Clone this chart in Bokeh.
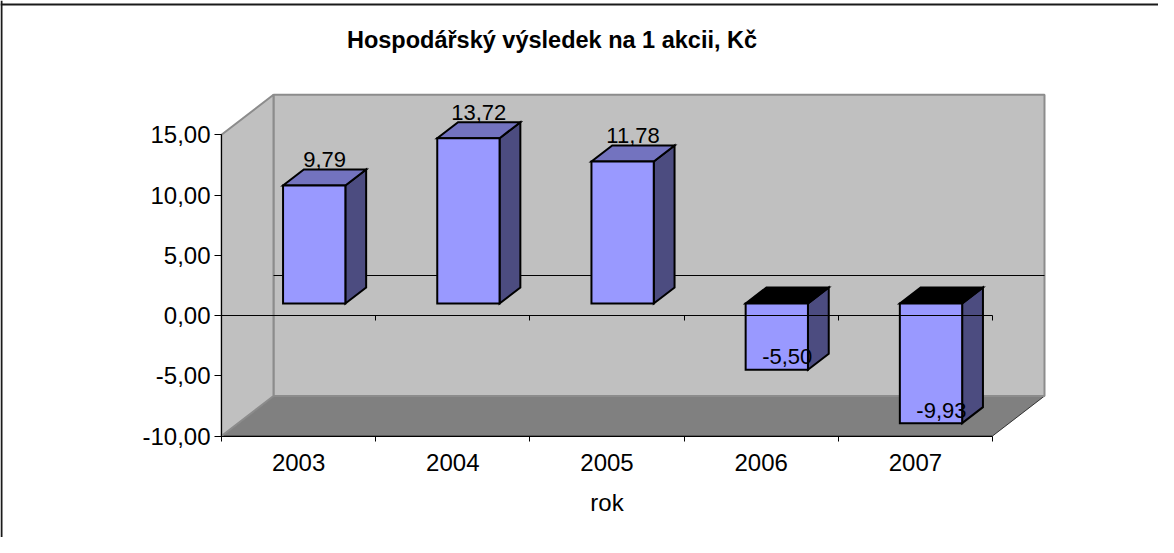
from bokeh.plotting import figure
from bokeh.models import Range1d, LinearAxis, FixedTicker, Span, Label, ColumnDataSource
from bokeh.embed import file_html
from bokeh.resources import INLINE
from bokeh.core.properties import value

# ---------------- data ----------------
years = ["2003", "2004", "2005", "2006", "2007"]
eps = [9.79, 13.72, 11.78, -5.50, -9.93]
y_ticks = [-10, -5, 0, 5, 10, 15]
title_text = "Hospodářský výsledek na 1 akcii, Kč"
x_title = "rok"

# ---------------- layout / 3D geometry ----------------
W, H = 1158, 537
PX_X = 154.2          # px per category
PX_Y = 12.05          # px per unit of value
AX_X = 221            # px from figure left to value axis
ZERO_Y = 315          # px from figure top to value 0 on the front plane
DX = 52 / PX_X        # depth vector (x, in category units)
DY = 40 / PX_Y        # depth vector (y, in value units)
BAR_W = 0.404
D0, D1 = 0.3, 0.7     # bar depth span (fraction of the depth)
Y_MIN, Y_MAX = y_ticks[0], y_ticks[-1]
n = len(years)
X_LO, X_HI = -0.5, n - 0.5

x_start = -AX_X / PX_X - 0.5
x_end = (W - AX_X) / PX_X - 0.5
y_end = ZERO_Y / PX_Y
y_start = -(H - ZERO_Y) / PX_Y

FONT = "Liberation Sans"

p = figure(width=W, height=H, x_range=Range1d(x_start, x_end), y_range=Range1d(y_start, y_end),
           x_axis_type=None, y_axis_type=None, toolbar_location=None, output_backend="svg",
           min_border=0, outline_line_color=None,
           background_fill_color="white", border_fill_color="white")

# floor
p.patch([X_LO, X_HI, X_HI + DX, X_LO + DX], [Y_MIN, Y_MIN, Y_MIN + DY, Y_MIN + DY],
        fill_color="#808080", line_color="#333333", line_width=1)
# back wall
p.patch([X_LO + DX, X_HI + DX, X_HI + DX, X_LO + DX],
        [Y_MIN + DY, Y_MIN + DY, Y_MAX + DY, Y_MAX + DY],
        fill_color="#c0c0c0", line_color="#8c8c8c", line_width=2)
# side wall
p.patch([X_LO, X_LO + DX, X_LO + DX, X_LO], [Y_MIN, Y_MIN + DY, Y_MAX + DY, Y_MAX],
        fill_color="#c0c0c0", line_color="#8c8c8c", line_width=2)
# zero line on the back wall
p.line([X_LO + DX, X_HI + DX], [DY, DY], line_color="black", line_width=1)

# bars
front_x, front_y, side_x, side_y, top_x, top_y, top_c = [], [], [], [], [], [], []
for i, v in enumerate(eps):
    xl, xr = i - BAR_W / 2, i + BAR_W / 2
    lo, hi = min(0, v), max(0, v)
    front_x.append([xl + D0 * DX, xr + D0 * DX, xr + D0 * DX, xl + D0 * DX])
    front_y.append([lo + D0 * DY, lo + D0 * DY, hi + D0 * DY, hi + D0 * DY])
    side_x.append([xr + D0 * DX, xr + D1 * DX, xr + D1 * DX, xr + D0 * DX])
    side_y.append([lo + D0 * DY, lo + D1 * DY, hi + D1 * DY, hi + D0 * DY])
    top_x.append([xl + D0 * DX, xr + D0 * DX, xr + D1 * DX, xl + D1 * DX])
    top_y.append([hi + D0 * DY, hi + D0 * DY, hi + D1 * DY, hi + D1 * DY])
    top_c.append("#7373BF" if v > 0 else "#000000")

p.patches(side_x, side_y, fill_color="#4C4C80", line_color="black", line_width=2, line_join="miter")
p.patches(xs="xs", ys="ys", fill_color="c", source=ColumnDataSource(dict(xs=top_x, ys=top_y, c=top_c)),
          line_color="black", line_width=2, line_join="miter")
p.patches(front_x, front_y, fill_color="#9999FF", line_color="black", line_width=2, line_join="miter")

# data labels
lab = ColumnDataSource(dict(
    x=[i + 0.5 * DX for i in range(n)],
    y=[v + 0.5 * DY for v in eps],
    t=[f"{v:.2f}".replace(".", ",") for v in eps],
    off=[-18 if v > 0 else -5 for v in eps],
))
p.text(x="x", y="y", text="t", y_offset="off", source=lab, text_align="center", text_baseline="middle",
       text_font=value(FONT), text_font_size="22px", text_color="black")

# axes
yaxis = LinearAxis(fixed_location=X_LO, bounds=(Y_MIN, Y_MAX), ticker=FixedTicker(ticks=y_ticks),
                   major_label_overrides={t: f"{t:.2f}".replace(".", ",") for t in y_ticks},
                   major_tick_out=7, major_tick_in=0, minor_tick_out=0, minor_tick_in=0,
                   major_label_standoff=4, axis_line_color="black", major_tick_line_color="black",
                   major_label_text_font=FONT, major_label_text_font_size="24px",
                   major_label_text_color="black")
p.add_layout(yaxis, "left")

bounds_ticks = [i - 0.5 for i in range(n + 1)]
xaxis = LinearAxis(fixed_location=Y_MIN, bounds=(X_LO, X_HI),
                   ticker=FixedTicker(ticks=list(range(n)), minor_ticks=bounds_ticks),
                   major_label_overrides={i: y for i, y in enumerate(years)},
                   major_tick_out=0, major_tick_in=0, minor_tick_out=5, minor_tick_in=0,
                   major_label_standoff=13, axis_line_color="black", minor_tick_line_color="black",
                   major_label_text_font=FONT, major_label_text_font_size="24px",
                   major_label_text_color="black",
                   axis_label=x_title, axis_label_standoff=14, axis_label_text_font=FONT,
                   axis_label_text_font_size="24px", axis_label_text_font_style="normal",
                   axis_label_text_color="black")
p.add_layout(xaxis, "below")

zaxis = LinearAxis(fixed_location=0, bounds=(X_LO, X_HI),
                   ticker=FixedTicker(ticks=[], minor_ticks=bounds_ticks),
                   major_tick_out=0, major_tick_in=0, minor_tick_out=5, minor_tick_in=0,
                   axis_line_color="black", minor_tick_line_color="black")
p.add_layout(zaxis, "below")

# chart border (top and left) and title
p.add_layout(Span(location=(ZERO_Y - 4) / PX_Y, dimension="width", line_color="#1a1a1a", line_width=2))
p.add_layout(Span(location=x_start + 1 / PX_X, dimension="height", line_color="#1a1a1a", line_width=2))
p.add_layout(Label(x=(559.5 - 8 - AX_X) / PX_X - 0.5, y=(ZERO_Y - 39.7) / PX_Y, text=title_text,
                   text_align="center", text_baseline="alphabetic", text_font=FONT,
                   text_font_size="23.5px", text_font_style="bold", text_color="black"))

open("out.html", "w").write(file_html(p, INLINE))
